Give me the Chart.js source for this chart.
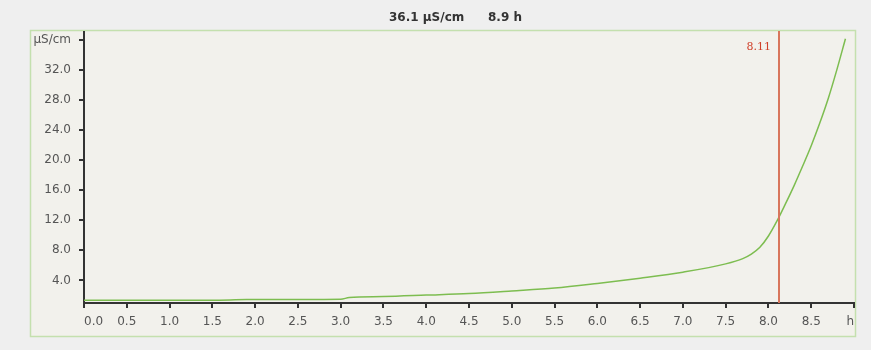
<!DOCTYPE html>
<html>
<head>
<meta charset="utf-8">
<title>Conductivity over time</title>
<script src="https://cdn.jsdelivr.net/npm/chart.js@4.4.1/dist/chart.umd.min.js"></script>
<style>
  html, body { margin: 0; padding: 0; background: #efefef; }
  canvas { display: block; }
</style>
</head>
<body>
<canvas id="chart" width="871" height="350"></canvas>
<script>
// Elapsed time (h) and measured conductivity (µS/cm)
const hours = [0, 0.5, 1.0, 1.5, 1.9, 2.5, 3.0, 3.1, 3.5, 4.0, 4.5, 5.0, 5.5, 6.0, 6.5, 7.0, 7.5, 7.7, 7.8, 7.9, 8.0, 8.1, 8.2, 8.3, 8.4, 8.5, 8.6, 8.7, 8.8, 8.9];
const conductivity = [1.35, 1.35, 1.36, 1.37, 1.45, 1.47, 1.5, 1.72, 1.85, 2.05, 2.26, 2.6, 2.98, 3.6, 4.3, 5.1, 6.2, 6.9, 7.5, 8.4, 9.9, 11.9, 14.2, 16.6, 19.2, 21.9, 24.9, 28.2, 32.0, 36.1];

// Axis ticks; the last tick on each axis carries the unit instead of a number
const xTicks = [0, 0.5, 1.0, 1.5, 2.0, 2.5, 3.0, 3.5, 4.0, 4.5, 5.0, 5.5, 6.0, 6.5, 7.0, 7.5, 8.0, 8.5, 9.0];
const yTicks = [4, 8, 12, 16, 20, 24, 28, 32, 36];
const xUnit = 'h';
const yUnit = 'µS/cm';

// Cursor position (h)
const cursorHour = 8.11;

const axisColor = '#333333';
const labelFont = { family: 'DejaVu Sans', size: 12 };

const panelPlugin = {
  id: 'panel',
  beforeDraw(chart) {
    const ctx = chart.ctx;
    ctx.save();
    ctx.fillStyle = '#efefef';
    ctx.fillRect(0, 0, chart.width, chart.height);
    ctx.fillStyle = '#f2f1ec';
    ctx.fillRect(30.5, 30.5, 825, 306);
    ctx.strokeStyle = '#c4e0ae';
    ctx.lineWidth = 1.5;
    ctx.strokeRect(30.5, 30.5, 825, 306);
    ctx.restore();
  },
  afterDraw(chart) {
    const ctx = chart.ctx;
    const last = conductivity.length - 1;
    ctx.save();
    ctx.fillStyle = '#333333';
    ctx.font = 'bold 12px "DejaVu Sans"';
    ctx.textBaseline = 'middle';
    ctx.textAlign = 'left';
    ctx.fillText(conductivity[last].toFixed(1) + ' ' + yUnit, 389, 18);
    ctx.fillText(hours[last].toFixed(1) + ' ' + xUnit, 488, 18);
    ctx.restore();
  }
};

const cursorPlugin = {
  id: 'cursor',
  afterDatasetsDraw(chart) {
    const ctx = chart.ctx;
    const x = Math.round(chart.scales.x.getPixelForValue(cursorHour)) + 1;
    const area = chart.chartArea;
    ctx.save();
    ctx.strokeStyle = '#d8765c';
    ctx.lineWidth = 2;
    ctx.beginPath();
    ctx.moveTo(x, 31);
    ctx.lineTo(x, area.bottom);
    ctx.stroke();
    ctx.fillStyle = '#d0402a';
    ctx.font = '11px "DejaVu Serif"';
    ctx.textAlign = 'right';
    ctx.textBaseline = 'middle';
    ctx.fillText(cursorHour.toFixed(2), x - 8, 47);
    ctx.restore();
  }
};

new Chart(document.getElementById('chart'), {
  type: 'line',
  data: {
    datasets: [{
      data: hours.map((h, i) => ({ x: h, y: conductivity[i] })),
      borderColor: '#7dbd50',
      borderWidth: 1.5,
      pointRadius: 0,
      fill: false,
      cubicInterpolationMode: 'monotone'
    }]
  },
  options: {
    responsive: false,
    devicePixelRatio: 1,
    animation: false,
    layout: { padding: { left: 0, top: 32, right: 17, bottom: 0 } },
    plugins: { legend: { display: false }, tooltip: { enabled: false } },
    scales: {
      x: {
        type: 'linear',
        min: 0,
        max: 9,
        afterBuildTicks(scale) { scale.ticks = xTicks.map(v => ({ value: v })); },
        afterFit(scale) { scale.height = 47; },
        border: { color: axisColor, width: 2 },
        grid: { drawOnChartArea: false, drawTicks: true, tickLength: 5, color: axisColor, lineWidth: 2 },
        ticks: {
          font: labelFont,
          color: '#555555',
          padding: 7,
          align: 'inner',
          maxRotation: 0,
          autoSkip: false,
          callback: (v) => v === 9 ? xUnit : Number(v).toFixed(1)
        }
      },
      y: {
        type: 'linear',
        min: 1,
        max: 37,
        afterBuildTicks(scale) { scale.ticks = yTicks.map(v => ({ value: v })); },
        afterFit(scale) { scale.width = 84; },
        border: { color: axisColor, width: 2 },
        grid: { drawOnChartArea: false, drawTicks: true, tickLength: 5, color: axisColor, lineWidth: 2 },
        ticks: {
          font: labelFont,
          color: '#555555',
          padding: 8,
          autoSkip: false,
          callback: (v) => v === 36 ? yUnit : Number(v).toFixed(1)
        }
      }
    }
  },
  plugins: [panelPlugin, cursorPlugin]
});
</script>
</body>
</html>
